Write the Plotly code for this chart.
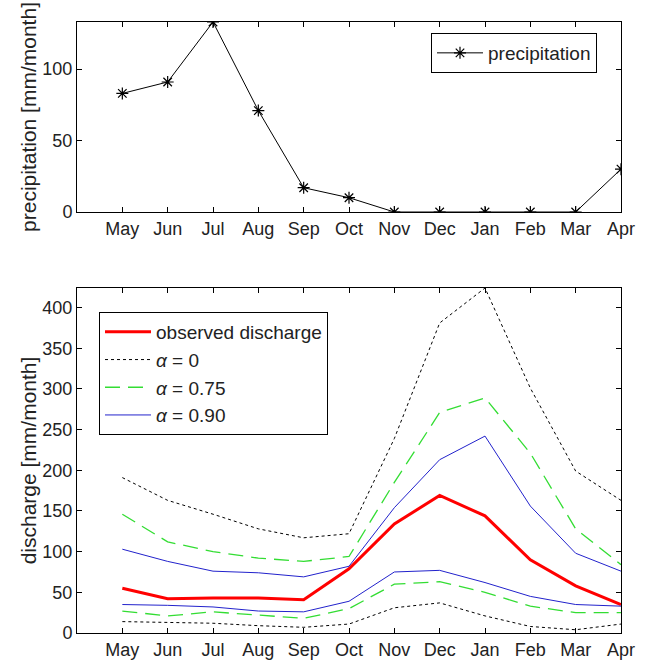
import plotly.graph_objects as go

months = ["May", "Jun", "Jul", "Aug", "Sep", "Oct", "Nov", "Dec", "Jan", "Feb", "Mar", "Apr"]

precipitation = [83, 91, 133, 71, 17, 10, 0, 0, 0, 0, 0, 30]

observed = [55, 42, 43, 43, 41, 79, 134, 169, 144, 90, 58, 35]
a0_upper = [191, 163, 146, 128, 117, 122, 239, 381, 424, 301, 199, 163]
a0_lower = [14, 13, 12, 9, 7, 11, 31, 37, 21, 8, 4, 11]
a75_upper = [146, 112, 100, 92, 88, 94, 185, 271, 289, 221, 128, 84]
a75_lower = [27, 21, 26, 22, 18, 30, 60, 63, 50, 33, 25, 25]
a90_upper = [103, 88, 76, 74, 69, 82, 154, 213, 242, 156, 98, 76]
a90_lower = [35, 34, 32, 27, 26, 39, 75, 77, 62, 45, 35, 33]

FONT = "Liberation Sans, Arial, sans-serif"
TXT = "#222222"

fig = go.Figure()

fig.add_trace(go.Scatter(
    x=months, y=precipitation, name="precipitation", mode="lines+markers",
    line=dict(color="black", width=1),
    marker=dict(symbol="asterisk-open", size=10, line=dict(color="black", width=1.2), color="black"),
    xaxis="x", yaxis="y", legend="legend"))

def band(upper, lower, name, color, dash, width, group):
    fig.add_trace(go.Scatter(x=months, y=upper, name=name, mode="lines",
                             line=dict(color=color, dash=dash, width=width),
                             legendgroup=group, showlegend=True,
                             xaxis="x2", yaxis="y2", legend="legend2"))
    fig.add_trace(go.Scatter(x=months, y=lower, name=name, mode="lines",
                             line=dict(color=color, dash=dash, width=width),
                             legendgroup=group, showlegend=False,
                             xaxis="x2", yaxis="y2", legend="legend2"))

fig.add_trace(go.Scatter(x=months, y=observed, name="observed discharge", mode="lines",
                         line=dict(color="#ff0000", width=3),
                         xaxis="x2", yaxis="y2", legend="legend2"))
band(a0_upper, a0_lower, "<i>α</i> = 0", "black", "3px,3px", 1, "a0")
band(a75_upper, a75_lower, "<i>α</i> = 0.75", "#33dd33", "15px,8px", 1.3, "a75")
band(a90_upper, a90_lower, "<i>α</i> = 0.90", "#2222cc", "solid", 1, "a90")

axis_common = dict(showline=True, linecolor="black", linewidth=1, mirror="ticks",
                   ticks="inside", ticklen=5, tickcolor="black", showgrid=False,
                   zeroline=False, automargin=False,
                   tickfont=dict(family=FONT, size=18, color=TXT))

xdom = [77 / 650, 621 / 650]
title_font = dict(family=FONT, size=21, color=TXT)
legend_common = dict(xanchor="left", yanchor="top", bgcolor="white",
                     bordercolor="black", borderwidth=1,
                     font=dict(family=FONT, size=19, color=TXT),
                     itemwidth=46, tracegroupgap=0)

fig.update_layout(
    width=650, height=663,
    margin=dict(l=0, r=0, t=0, b=0),
    paper_bgcolor="white", plot_bgcolor="white",
    font=dict(family=FONT, size=18, color=TXT),
    xaxis=dict(domain=xdom, anchor="y", type="category", range=[-1, 11],
               categoryorder="array", categoryarray=months, **axis_common),
    yaxis=dict(domain=[1 - 212 / 663, 1 - 22 / 663], anchor="x", range=[0, 133],
               tickvals=[0, 50, 100],
               title=dict(text="precipitation [mm/month]", standoff=0, font=title_font),
               **axis_common),
    xaxis2=dict(domain=xdom, anchor="y2", type="category", range=[-1, 11],
                categoryorder="array", categoryarray=months, **axis_common),
    yaxis2=dict(domain=[1 - 633 / 663, 1 - 288 / 663], anchor="x2", range=[0, 424],
                tickvals=[0, 50, 100, 150, 200, 250, 300, 350, 400],
                title=dict(text="discharge [mm/month]", standoff=0, font=title_font),
                **axis_common),
    legend=dict(x=431 / 650, y=1 - 33 / 663, **legend_common),
    legend2=dict(x=99 / 650, y=1 - 312 / 663, **legend_common),
    showlegend=True,
)

fig.write_html("out.html")
